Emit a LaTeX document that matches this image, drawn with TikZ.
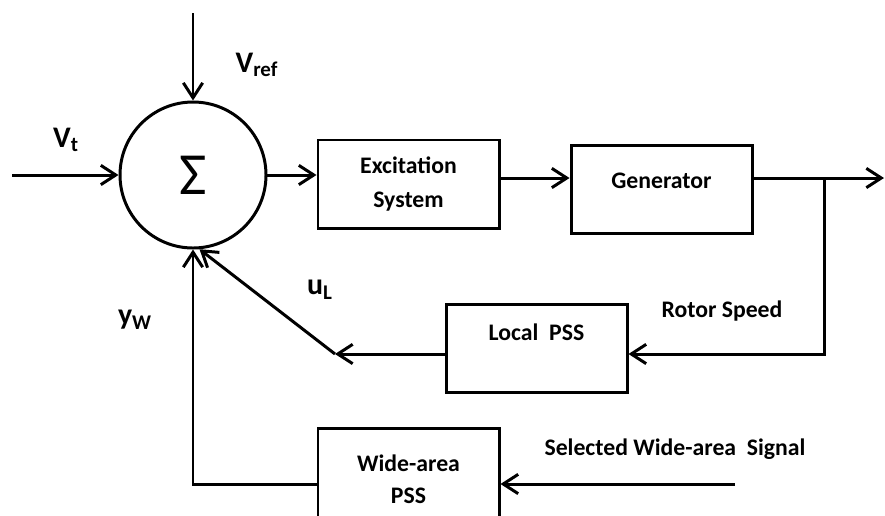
\documentclass[tikz,border=0pt]{standalone}
\usepackage{fontspec}
\setmainfont{Carlito}
\usetikzlibrary{arrows.meta, positioning}

\tikzset{
  sig/.style={line width=1.7pt, -{Straight Barb[length=8.5pt, width=11pt]}},
  blk/.style={draw, line width=1.7pt, minimum width=3.62cm, minimum height=1.76cm, inner sep=0pt},
  txt/.style={font=\fontsize{13.5}{16}\selectfont\bfseries, align=center},
  var/.style={font=\fontsize{17}{20}\selectfont\bfseries},
}

\begin{document}
\begin{tikzpicture}
\useasboundingbox (0,0) rectangle (17.7,-10.3);
\node[circle, draw, line width=1.7pt, minimum size=2.92cm, inner sep=0pt, font=\fontsize{34}{34}\selectfont] (sum) at (3.86, -3.5) {Σ};
\node[blk, txt] (exc) at (8.17, -3.68) {Excitation\\[3pt]System};
\node[blk] (gen) at (13.23, -3.79) {};
\node[txt] (gentxt) at (13.23, -3.62) {Generator};
\node[blk] (lpss) at (10.73, -6.96) {};
\node[txt] (lpsstxt) at (10.73, -6.64) {Local\ \ PSS};
\node[blk, txt, minimum height=2.04cm] (wpss) at (8.17, -9.58) {Wide-area\\[2pt]PSS};
\node[var] (vref) at (5.14, -1.3) {V\textsubscript{ref}};
\node[var] (vt) at (1.32, -2.8) {V\textsubscript{t}};
\node[var] (ul) at (6.4, -5.8) {u\textsubscript{L}};
\node[var] (yw) at (2.7, -6.4) {y\textsubscript{W}};
\node[txt] (rotor) at (14.44, -6.22) {Rotor Speed};
\node[txt] (wsig) at (13.5, -8.98) {Selected Wide-area\ \ Signal};
% signal end points
\coordinate (ref) at (3.86, -0.26);
\coordinate (vin) at (0.24, -3.5);
\coordinate (out) at (17.68, -3.56);
\coordinate (tap) at (16.48, -3.56);
\coordinate (bend) at (6.7, -7.08);
\coordinate (wsrc) at (14.7, -9.68);
\draw[sig] (ref) -- (sum);
\draw[sig] (vin) -- (sum);
\draw[sig] (sum) -- (sum -| exc.west);
\draw[sig] (exc.east |- tap) -- (gen.west |- tap);
\draw[sig] (gen.east |- tap) -- (out);
\draw[sig] (tap) |- (lpss.east |- bend);
\draw[sig] (lpss.west |- bend) -- (bend);
\draw[sig] (bend) -- (sum.-85);
\draw[sig] (wpss.west |- wsrc) -| (sum.south);
\draw[sig] (wsrc) -- (wpss.east |- wsrc);
\end{tikzpicture}
\end{document}
